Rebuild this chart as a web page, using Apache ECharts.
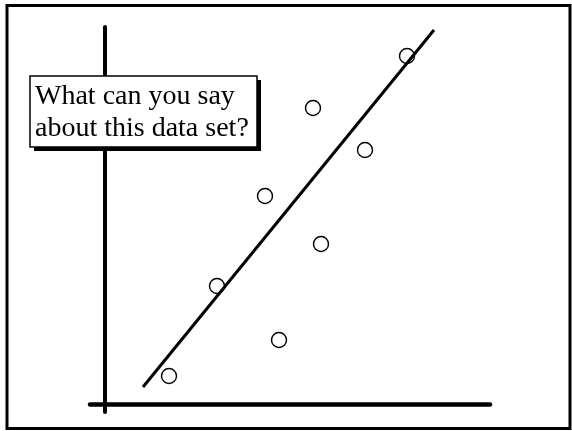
<!DOCTYPE html>
<html>
<head>
<meta charset="utf-8">
<script src="https://cdn.jsdelivr.net/npm/echarts@6/dist/echarts.min.js"></script>
<style>html,body{margin:0;padding:0;background:#fff;}#c{width:572px;height:431px;}</style>
</head>
<body>
<div id="c"></div>
<script>
// Data (arbitrary units; axes cross at 0,0)
var pointsX = [1.6, 2.8, 4.0, 4.35, 5.2, 5.4, 6.5, 7.55];
var pointsY = [0.7, 2.95, 5.2, 1.6, 7.4, 4.0, 6.35, 8.7];
var fitX = [0.95, 8.225];
var fitY = [0.425, 9.35];
var questionLines = ['What can you say', 'about this data set?'];

var chart = echarts.init(document.getElementById('c'), null, {renderer: 'canvas'});
var scatterData = pointsX.map(function (x, i) { return [x, pointsY[i]]; });
var fitData = fitX.map(function (x, i) { return [x, fitY[i]]; });
var serif = "'Liberation Serif', 'Times New Roman', serif";

chart.setOption({
  backgroundColor: '#fff',
  animation: false,
  grid: {left: 90, right: 82, top: 27, bottom: 19, containLabel: false},
  xAxis: {
    type: 'value', min: -0.375, max: 9.625,
    axisLine: {show: true, onZero: true, lineStyle: {color: '#000', width: 4.5}},
    axisTick: {show: false}, axisLabel: {show: false}, splitLine: {show: false}
  },
  yAxis: {
    type: 'value', min: -0.2, max: 9.425,
    axisLine: {show: true, onZero: true, lineStyle: {color: '#000', width: 4}},
    axisTick: {show: false}, axisLabel: {show: false}, splitLine: {show: false}
  },
  series: [
    {
      type: 'line', data: fitData, symbol: 'none',
      lineStyle: {color: '#000', width: 3}, z: 3
    },
    {
      type: 'scatter', data: scatterData, symbol: 'circle', symbolSize: 15,
      itemStyle: {color: 'rgba(255,255,255,0)', borderColor: '#000', borderWidth: 1.4, opacity: 1}, z: 4
    }
  ],
  graphic: [
    {type: 'rect', z: 1, shape: {x: 7, y: 5.5, width: 563, height: 423},
     style: {fill: 'none', stroke: '#000', lineWidth: 3}},
    {type: 'rect', z: 100, shape: {x: 34, y: 80, width: 227, height: 71},
     style: {fill: '#000'}},
    {type: 'rect', z: 101, shape: {x: 30, y: 76, width: 227, height: 71},
     style: {fill: '#fff', stroke: '#000', lineWidth: 1.5}},
    {type: 'text', z: 102, x: 35, y: 97,
     style: {text: questionLines[0], fill: '#000', font: '28px ' + serif, verticalAlign: 'middle', align: 'left'}},
    {type: 'text', z: 102, x: 35, y: 129,
     style: {text: questionLines[1], fill: '#000', font: '28px ' + serif, verticalAlign: 'middle', align: 'left'}}
  ]
});
</script>
</body>
</html>
